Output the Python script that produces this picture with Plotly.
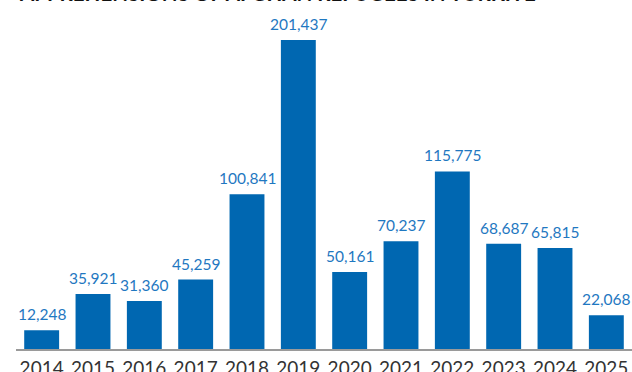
import plotly.graph_objects as go

years = ["2014", "2015", "2016", "2017", "2018", "2019",
         "2020", "2021", "2022", "2023", "2024", "2025"]
apprehensions = [12248, 35921, 31360, 45259, 100841, 201437,
                 50161, 70237, 115775, 68687, 65815, 22068]

title_text = "APPREHENSIONS OF AFGHAN REFUGEES IN TURKIYE"

bar_color = "#0067b1"
label_color = "#1f78c1"
font_family = "Lato, 'Open Sans', sans-serif"

positions = list(range(len(years)))

fig = go.Figure(
    go.Bar(
        x=positions,
        y=apprehensions,
        width=0.68,
        marker=dict(color=bar_color, line=dict(width=0)),
        customdata=years,
        hovertemplate="%{customdata}: %{y:,}<extra></extra>",
    )
)

# value labels above each bar
for p, v in zip(positions, apprehensions):
    fig.add_annotation(
        x=p, y=v, xref="x", yref="y",
        text=f"{v:,}",
        showarrow=False,
        yanchor="bottom",
        yshift=5,
        font=dict(family=font_family, size=15.5, color=label_color),
    )

# title sits at the very top edge
fig.add_annotation(
    x=0.425, y=1, xref="paper", yref="paper",
    text=f"<b>{title_text}</b>",
    showarrow=False,
    xanchor="center", yanchor="middle",
    yshift=7,
    font=dict(family=font_family, size=20.5, color="#111111"),
)

fig.update_layout(
    width=632, height=372,
    margin=dict(l=16, r=0, t=0, b=23, autoexpand=False),
    paper_bgcolor="white",
    plot_bgcolor="white",
    showlegend=False,
    font=dict(family=font_family),
    xaxis=dict(
        range=[-0.5, len(years) - 0.5],
        tickmode="array", tickvals=positions, ticktext=years,
        showline=True, linecolor="#9a9a9a", linewidth=1.5,
        ticks="", showgrid=False, zeroline=False,
        automargin=False,
        ticklabelstandoff=1,
        tickfont=dict(family=font_family, size=19, color="#333333"),
    ),
    yaxis=dict(
        range=[0, 227500],
        visible=False, showgrid=False, zeroline=False,
        automargin=False,
    ),
)

fig.write_html("out.html")
